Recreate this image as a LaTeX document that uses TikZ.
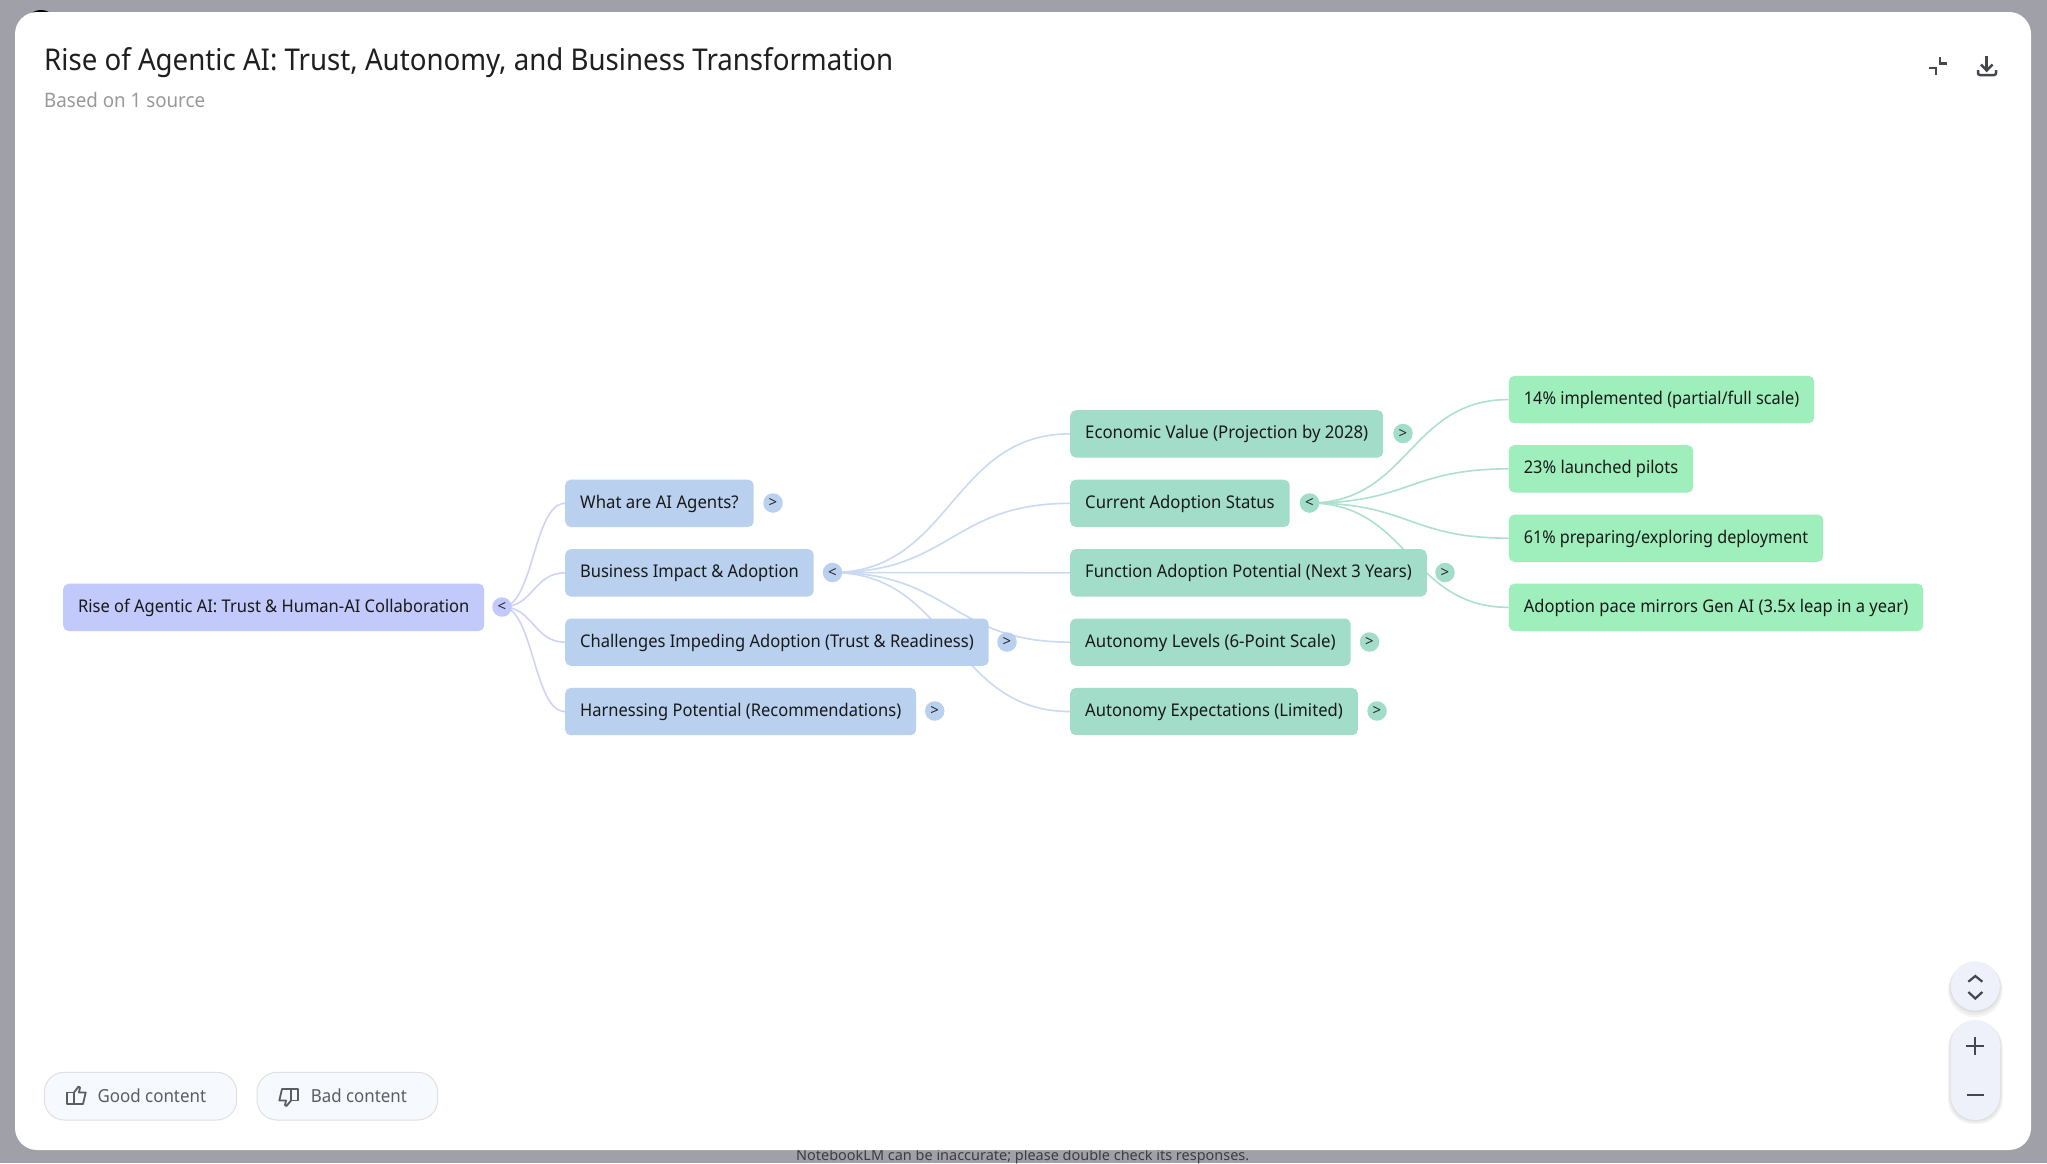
\documentclass[tikz,border=0pt]{standalone}
\usepackage{graphicx}
\usepackage{fontspec}
\setmainfont{Noto Sans}
\usetikzlibrary{calc}
\pgfdeclarelayer{cardlayer}
\pgfdeclarelayer{linklayer}
\pgfsetlayers{cardlayer,linklayer,main}
\definecolor{pagegray}{HTML}{A0A0A9}
\definecolor{rootfill}{HTML}{C2C9FB}
\definecolor{bluefill}{HTML}{B9D1EE}
\definecolor{tealfill}{HTML}{A2DDCA}
\definecolor{greenfill}{HTML}{9EEFBC}
\definecolor{linkone}{HTML}{CFD3FA}
\definecolor{linktwo}{HTML}{C9DAF2}
\definecolor{linkthree}{HTML}{ABE1CD}
\definecolor{iconink}{HTML}{45474F}
\definecolor{btnink}{HTML}{5A5E64}
\definecolor{navfill}{HTML}{EEF0FA}
\definecolor{btnfill}{HTML}{F6F9FD}
\newcommand\fitw[2]{\resizebox{#1pt}{\height}{#2}}
\newcommand\bx[6]{%
  \pgfmathsetmacro\bxw{#5-#3}%
  \pgfmathsetmacro\bxt{#5-#3-30}%
  \node[treebox,#2,minimum width=\bxw pt,anchor=north west] (#1) at (#3,#4) {\fitw{\bxt}{#6}};}
\newcommand\lnk[3]{%
  \draw[#1,line width=1.6pt] let \p1=(#2.center),\p2=(#3.west),\n1={(\x1+\x2)/2} in
    (\p1) .. controls (\n1,\y1) and (\n1,\y2) .. (\p2);}
\tikzset{
  treebox/.style={rounded corners=5.5pt,inner xsep=0pt,inner ysep=0pt,minimum height=47.3pt,
    text height=14pt,text depth=4.3pt,font=\fontsize{17.5}{20}\selectfont,text=black!90},
  rootbox/.style={fill=rootfill},
  bluebox/.style={fill=bluefill},
  tealbox/.style={fill=tealfill},
  greenbox/.style={fill=greenfill},
  toggle/.style={circle,inner sep=0pt,minimum size=19.5pt,font=\fontsize{15}{15}\selectfont\bfseries,text=black!85},
  icon/.style={draw=iconink,line width=2.2pt},
  btn/.style={draw=black!12,fill=btnfill,line width=1pt,rounded corners=20pt},
  btnlabel/.style={anchor=base west,inner sep=0pt,text=btnink,font=\fontsize{18}{20}\selectfont},
  thumb/.style={draw=btnink,line width=1.8pt,line join=round},
  navshade/.style={fill=black,fill opacity=.045},
}
\begin{document}
\begin{tikzpicture}[x=1pt,y=-1pt]
\useasboundingbox (0,0) rectangle (2047,1163);
\begin{pgfonlayer}{cardlayer}
  \fill[pagegray] (0,0) rectangle (2047,1163);
  \fill[black] (41,26) circle (16);
  \node[anchor=base west,inner sep=0pt,text=black!62!pagegray,font=\fontsize{14.5}{16}\selectfont] (footer) at (796,1160)
    {\fitw{453}{NotebookLM can be inaccurate; please double check its responses.}};
  \fill[white,rounded corners=22pt] (15,12) rectangle (2031,1150);
\end{pgfonlayer}

% headings
\node[anchor=base west,inner sep=0pt,text=black!88,font=\fontsize{30}{34}\selectfont] (title) at (44,70.5)
  {\fitw{849}{Rise of Agentic AI: Trust, Autonomy, and Business Transformation}};
\node[anchor=base west,inner sep=0pt,text=black!40,font=\fontsize{20}{24}\selectfont] (subtitle) at (44,107.5)
  {\fitw{161}{Based on 1 source}};

% tree boxes
\bx{root}{rootbox}{63}{583.5}{484}{Rise of Agentic AI: Trust \& Human-AI Collaboration}
\bx{what}{bluebox}{565}{479.5}{753.5}{What are AI Agents?}
\bx{biz}{bluebox}{565}{549}{813.5}{Business Impact \& Adoption}
\bx{chal}{bluebox}{565}{618.3}{988.5}{Challenges Impeding Adoption (Trust \& Readiness)}
\bx{harn}{bluebox}{565}{687.7}{916}{Harnessing Potential (Recommendations)}
\bx{econ}{tealbox}{1070}{410}{1383}{Economic Value (Projection by 2028)}
\bx{curr}{tealbox}{1070}{479.5}{1289.5}{Current Adoption Status}
\bx{func}{tealbox}{1070}{549}{1426.6}{Function Adoption Potential (Next 3 Years)}
\bx{levels}{tealbox}{1070}{618.3}{1350.5}{Autonomy Levels (6-Point Scale)}
\bx{expect}{tealbox}{1070}{687.7}{1357.6}{Autonomy Expectations (Limited)}
\bx{pct}{greenbox}{1508.6}{375.7}{1814}{14\% implemented (partial/full scale)}
\bx{pilots}{greenbox}{1508.6}{445}{1693}{23\% launched pilots}
\bx{prep}{greenbox}{1508.6}{514.3}{1823}{61\% preparing/exploring deployment}
\bx{pace}{greenbox}{1508.6}{583.5}{1923}{Adoption pace mirrors Gen AI (3.5x leap in a year)}

% toggles
\node[toggle,fill=rootfill] (troot) at (502,607) {<};
\node[toggle,fill=bluefill] (twhat) at (773,503) {>};
\node[toggle,fill=bluefill] (tbiz) at (832.5,572.5) {<};
\node[toggle,fill=bluefill] (tchal) at (1007,642) {>};
\node[toggle,fill=bluefill] (tharn) at (934.7,711) {>};
\node[toggle,fill=tealfill] (tecon) at (1403,433.5) {>};
\node[toggle,fill=tealfill] (tcurr) at (1309.5,503) {<};
\node[toggle,fill=tealfill] (tfunc) at (1445,572.5) {>};
\node[toggle,fill=tealfill] (tlevels) at (1369.5,642) {>};
\node[toggle,fill=tealfill] (texpect) at (1377,711) {>};

% connectors
\begin{pgfonlayer}{linklayer}
  \lnk{linkone}{troot}{what}
  \lnk{linkone}{troot}{biz}
  \lnk{linkone}{troot}{chal}
  \lnk{linkone}{troot}{harn}
  \lnk{linktwo}{tbiz}{econ}
  \lnk{linktwo}{tbiz}{curr}
  \lnk{linktwo}{tbiz}{func}
  \lnk{linktwo}{tbiz}{levels}
  \lnk{linktwo}{tbiz}{expect}
  \lnk{linkthree}{tcurr}{pct}
  \lnk{linkthree}{tcurr}{pilots}
  \lnk{linkthree}{tcurr}{prep}
  \lnk{linkthree}{tcurr}{pace}
\end{pgfonlayer}

% header icons
\draw[icon,line cap=butt] (1940,57) -- (1940,63.5) -- (1946.7,63.5);
\draw[icon,line cap=butt] (1929,68) -- (1936,68) -- (1936,74.5);
\draw[icon,line width=2.5pt] (1986.7,56) -- (1986.7,70);
\draw[icon,line width=2.5pt] (1981,64.5) -- (1986.7,70.5) -- (1992.5,64.5);
\draw[icon,line width=2.5pt,rounded corners=2pt] (1978,70) -- (1978,75) -- (1996,75) -- (1996,70);

% feedback buttons
\draw[btn] (44.3,1072.3) rectangle (236.7,1120);
\draw[btn] (257,1072.3) rectangle (437.7,1120);
\node[btnlabel] (good) at (97.3,1102.3) {\fitw{108.7}{Good content}};
\node[btnlabel] (bad) at (310.7,1102.3) {\fitw{96}{Bad content}};
\draw[thumb] (67,1092.5) rectangle (74,1104);
\draw[thumb] (74,1092.5) -- (78.5,1086.5) -- (80,1087.5) -- (79,1092.5) -- (85.7,1092.5) -- (83,1104) -- (74,1104);
\draw[thumb] (298,1100.5) rectangle (291,1089);
\draw[thumb] (291,1100.5) -- (286.5,1106) -- (285,1105) -- (286,1100.5) -- (279.3,1100.5) -- (282,1089) -- (291,1089);

% navigation controls: soft shadows, then the shapes
\foreach \g in {1,2.5,4} {
  \path[navshade] (1975.3,986+\g) circle (24.6+\g*.7);
  \path[navshade,rounded corners=25pt] (1950.7-\g*.7,1020+\g*.6) rectangle (2000+\g*.7,1120+\g);
}
\fill[navfill] (1975.3,986) circle (24.6);
\fill[navfill,rounded corners=24.5pt] (1950.7,1020) rectangle (2000,1120);
\draw[icon] (1968.3,981.7) -- (1975.3,976) -- (1982.3,981.7);
\draw[icon] (1968.3,992) -- (1975.3,998.5) -- (1982.3,992);
\draw[icon] (1966.4,1046) -- (1984.2,1046);
\draw[icon] (1975.3,1037) -- (1975.3,1055);
\draw[icon] (1966.6,1095) -- (1984,1095);
\end{tikzpicture}
\end{document}
